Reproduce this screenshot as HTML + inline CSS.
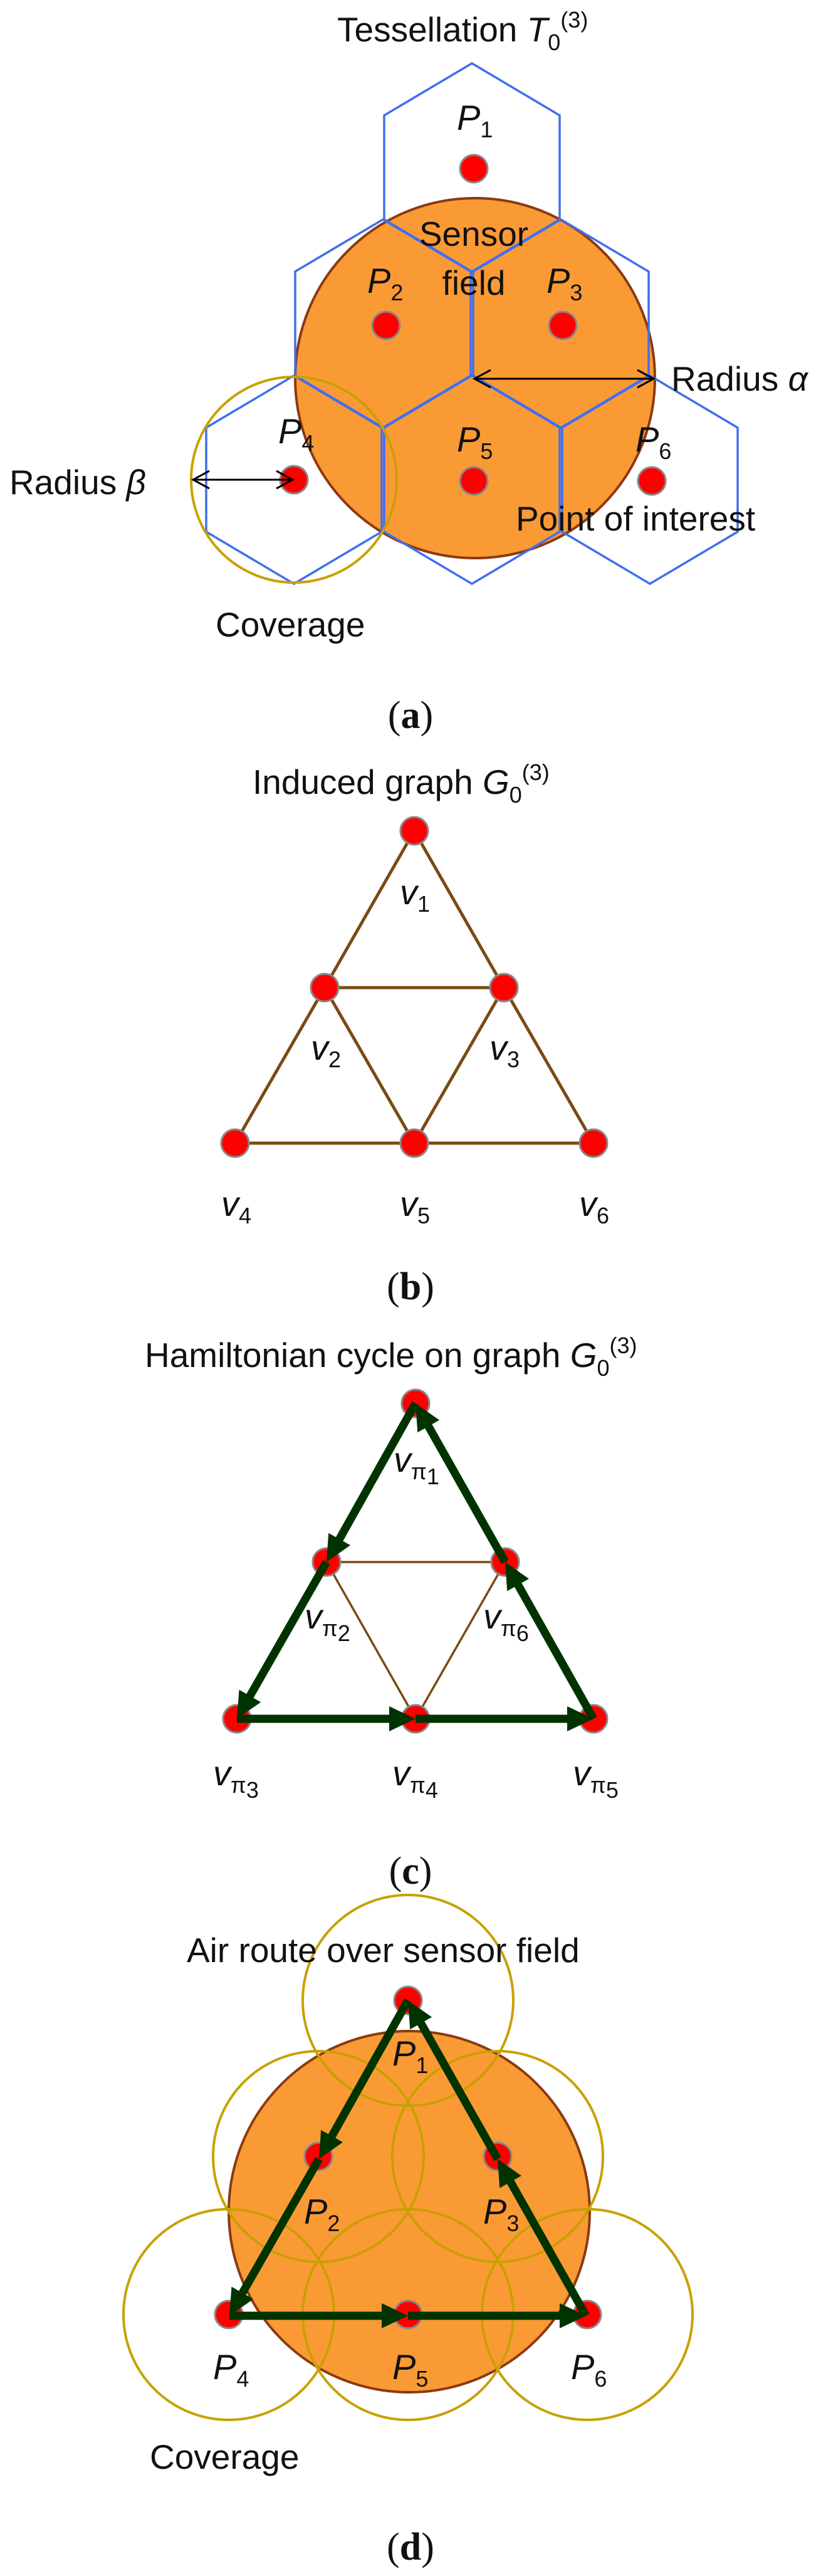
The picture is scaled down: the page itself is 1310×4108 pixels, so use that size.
<!DOCTYPE html>
<html><head><meta charset="utf-8"><style>
html,body{margin:0;padding:0;background:#fff}
svg{display:block}
text{font-family:"Liberation Sans",sans-serif;fill:#111}
.t{font-size:55px}
.l{font-size:56px;font-style:italic}
.s{font-size:36px;font-style:normal}
.cap{font-family:"Liberation Serif",serif;font-size:62px}
</style></head><body>
<svg width="1310" height="4108" viewBox="0 0 1310 4108" xmlns="http://www.w3.org/2000/svg">
<defs>
<marker id="ah" markerUnits="userSpaceOnUse" markerWidth="42" markerHeight="40" viewBox="0 0 42 40" refX="28" refY="20" orient="auto">
<path d="M0,0 L42,20 L0,40 z" fill="#003300"/>
</marker>
<g id="hex"><polygon points="0,-166 140,-83 140,83 0,166 -140,83 -140,-83" fill="none" stroke="#3f6ff0" stroke-width="3.5"/></g>
<g id="dot"><circle r="22" fill="#ff0000" stroke="#888" stroke-width="3"/></g>
</defs>

<!-- Panel a -->
<text class="t" x="538" y="66">Tessellation <tspan font-style="italic">T</tspan><tspan class="s" dy="14">0</tspan><tspan class="s" dy="-36">(3)</tspan></text>
<circle cx="758" cy="603" r="287" fill="#fa9a35" stroke="#8b3a10" stroke-width="4"/>
<use href="#hex" x="753" y="267"/>
<use href="#hex" x="611" y="516"/>
<use href="#hex" x="895" y="516"/>
<use href="#hex" x="469" y="765"/>
<use href="#hex" x="753" y="765"/>
<use href="#hex" x="1037" y="765"/>
<circle cx="469" cy="765" r="164" fill="none" stroke="#c9a000" stroke-width="4"/>
<use href="#dot" x="756" y="269"/>
<use href="#dot" x="616" y="519"/>
<use href="#dot" x="898" y="519"/>
<use href="#dot" x="469" y="765"/>
<use href="#dot" x="756" y="767"/>
<use href="#dot" x="1040" y="767"/>
<g stroke="#000" stroke-width="3" fill="none">
<line x1="757" y1="604" x2="1043" y2="604"/>
<polyline points="783,590 757,604 783,618"/>
<polyline points="1017,590 1043,604 1017,618"/>
<line x1="308" y1="765" x2="467" y2="765"/>
<polyline points="334,751 308,765 334,779"/>
<polyline points="441,751 467,765 441,779"/>
</g>
<text class="l" x="729" y="207">P<tspan class="s" dy="12">1</tspan></text>
<text class="l" x="586" y="467">P<tspan class="s" dy="12">2</tspan></text>
<text class="l" x="872" y="467">P<tspan class="s" dy="12">3</tspan></text>
<text class="l" x="444" y="707">P<tspan class="s" dy="12">4</tspan></text>
<text class="l" x="729" y="720">P<tspan class="s" dy="12">5</tspan></text>
<text class="l" x="1014" y="720">P<tspan class="s" dy="12">6</tspan></text>
<text class="t" x="756" y="392" text-anchor="middle">Sensor</text>
<text class="t" x="756" y="470" text-anchor="middle">field</text>
<text class="t" x="1071" y="623">Radius <tspan font-style="italic">α</tspan></text>
<text class="t" x="15" y="788">Radius <tspan font-style="italic">β</tspan></text>
<text class="t" x="823" y="846">Point of interest</text>
<text class="t" x="344" y="1015">Coverage</text>
<text class="cap" x="655" y="1161" text-anchor="middle">(<tspan font-weight="bold">a</tspan>)</text>

<!-- Panel b -->
<text class="t" x="403" y="1266">Induced graph <tspan font-style="italic">G</tspan><tspan class="s" dy="14">0</tspan><tspan class="s" dy="-36">(3)</tspan></text>
<g stroke="#7b4a12" stroke-width="5">
<line x1="661" y1="1325" x2="518" y2="1575"/>
<line x1="661" y1="1325" x2="804" y2="1575"/>
<line x1="518" y1="1575" x2="804" y2="1575"/>
<line x1="518" y1="1575" x2="375" y2="1823"/>
<line x1="518" y1="1575" x2="661" y2="1823"/>
<line x1="804" y1="1575" x2="661" y2="1823"/>
<line x1="804" y1="1575" x2="947" y2="1823"/>
<line x1="375" y1="1823" x2="947" y2="1823"/>
</g>
<use href="#dot" x="661" y="1325"/>
<use href="#dot" x="518" y="1575"/>
<use href="#dot" x="804" y="1575"/>
<use href="#dot" x="375" y="1823"/>
<use href="#dot" x="661" y="1823"/>
<use href="#dot" x="947" y="1823"/>
<text class="l" x="638" y="1442">v<tspan class="s" dy="12">1</tspan></text>
<text class="l" x="496" y="1690">v<tspan class="s" dy="12">2</tspan></text>
<text class="l" x="781" y="1690">v<tspan class="s" dy="12">3</tspan></text>
<text class="l" x="353" y="1939">v<tspan class="s" dy="12">4</tspan></text>
<text class="l" x="638" y="1939">v<tspan class="s" dy="12">5</tspan></text>
<text class="l" x="924" y="1939">v<tspan class="s" dy="12">6</tspan></text>
<text class="cap" x="655" y="2072" text-anchor="middle">(<tspan font-weight="bold">b</tspan>)</text>

<!-- Panel c -->
<text class="t" x="231" y="2180">Hamiltonian cycle on graph <tspan font-style="italic">G</tspan><tspan class="s" dy="14">0</tspan><tspan class="s" dy="-36">(3)</tspan></text>
<g stroke="#7b4a12" stroke-width="3.5">
<line x1="521" y1="2491" x2="806" y2="2491"/>
<line x1="521" y1="2491" x2="663" y2="2741"/>
<line x1="806" y1="2491" x2="663" y2="2741"/>
</g>
<use href="#dot" x="663" y="2238"/>
<use href="#dot" x="521" y="2491"/>
<use href="#dot" x="806" y="2491"/>
<use href="#dot" x="378" y="2741"/>
<use href="#dot" x="663" y="2741"/>
<use href="#dot" x="947" y="2741"/>
<g id="route" stroke="#003300" stroke-width="13" marker-end="url(#ah)">
<line x1="663" y1="2238" x2="527.9" y2="2478.8"/>
<line x1="521" y1="2491" x2="385" y2="2728.8"/>
<line x1="378" y1="2741" x2="649" y2="2741"/>
<line x1="663" y1="2741" x2="933" y2="2741"/>
<line x1="947" y1="2741" x2="812.9" y2="2503.2"/>
<line x1="806" y1="2491" x2="669.9" y2="2250.2"/>
</g>
<text class="l" x="628" y="2347">v<tspan class="s" dy="12">π</tspan><tspan class="s" dy="8" font-size="30">1</tspan></text>
<text class="l" x="486" y="2597">v<tspan class="s" dy="12">π</tspan><tspan class="s" dy="8" font-size="30">2</tspan></text>
<text class="l" x="771" y="2597">v<tspan class="s" dy="12">π</tspan><tspan class="s" dy="8" font-size="30">6</tspan></text>
<text class="l" x="340" y="2847">v<tspan class="s" dy="12">π</tspan><tspan class="s" dy="8" font-size="30">3</tspan></text>
<text class="l" x="626" y="2847">v<tspan class="s" dy="12">π</tspan><tspan class="s" dy="8" font-size="30">4</tspan></text>
<text class="l" x="914" y="2847">v<tspan class="s" dy="12">π</tspan><tspan class="s" dy="8" font-size="30">5</tspan></text>
<text class="cap" x="655" y="3004" text-anchor="middle">(<tspan font-weight="bold">c</tspan>)</text>

<!-- Panel d -->
<circle cx="653" cy="3527" r="288" fill="#fa9a35" stroke="#8b3a10" stroke-width="4"/>
<g fill="none" stroke="#c9a000" stroke-width="4">
<circle cx="651" cy="3190" r="168"/>
<circle cx="508" cy="3439" r="168"/>
<circle cx="794" cy="3439" r="168"/>
<circle cx="365" cy="3691" r="168"/>
<circle cx="651" cy="3691" r="168"/>
<circle cx="937" cy="3691" r="168"/>
</g>
<text class="t" x="298" y="3129" font-size="58">Air route over sensor field</text>
<use href="#dot" x="651" y="3190"/>
<use href="#dot" x="508" y="3439"/>
<use href="#dot" x="794" y="3439"/>
<use href="#dot" x="365" y="3691"/>
<use href="#dot" x="651" y="3691"/>
<use href="#dot" x="937" y="3691"/>
<use href="#route" x="-12" y="952"/>
<text class="l" x="626" y="3294">P<tspan class="s" dy="12">1</tspan></text>
<text class="l" x="485" y="3546">P<tspan class="s" dy="12">2</tspan></text>
<text class="l" x="771" y="3546">P<tspan class="s" dy="12">3</tspan></text>
<text class="l" x="340" y="3794">P<tspan class="s" dy="12">4</tspan></text>
<text class="l" x="626" y="3794">P<tspan class="s" dy="12">5</tspan></text>
<text class="l" x="911" y="3794">P<tspan class="s" dy="12">6</tspan></text>
<text class="t" x="239" y="3937">Coverage</text>
<text class="cap" x="655" y="4082" text-anchor="middle">(<tspan font-weight="bold">d</tspan>)</text>
</svg>
</body></html>
